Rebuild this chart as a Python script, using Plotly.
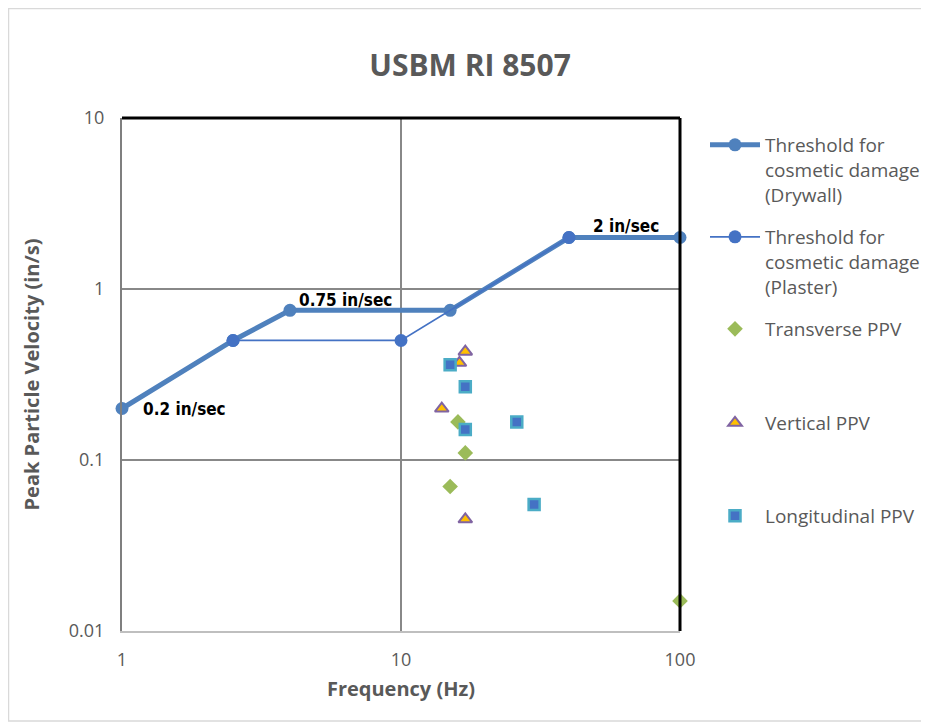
import numpy as np
import plotly.graph_objects as go

# Threshold curves
drywall_f = [1, 2.5, 4, 15, 40, 100]
drywall_v = [0.2, 0.5, 0.75, 0.75, 2, 2]
plaster_f = [2.5, 10, 40]
plaster_v = [0.5, 0.5, 2]

# Measured PPV
trans_f = [16, 17, 15, 100]
trans_v = [0.167, 0.11, 0.07, 0.015]
vert_f = [17, 16.2, 14, 17]
vert_v = [0.43, 0.37, 0.2, 0.045]
long_f = [15, 17, 17, 26, 30]
long_v = [0.36, 0.268, 0.151, 0.167, 0.055]

# Labels
label_text = ["0.2 in/sec", "0.75 in/sec", "2 in/sec"]
label_f = [1.68, 6.3, 64]
label_v = [0.2, 0.86, 2.34]

x_ticks = [1, 10, 100]
y_ticks = [0.01, 0.1, 1, 10]

GRAY = "#595959"
FONT = "Open Sans"
OFF = 8  # page body margin

fig = go.Figure()
fig.add_trace(go.Scatter(
    x=drywall_f, y=drywall_v, mode="lines+markers",
    name="Threshold for<br>cosmetic damage<br>(Drywall)",
    line=dict(color="#4F81BD", width=5),
    marker=dict(symbol="circle", size=13, color="#4F81BD"),
    cliponaxis=False, legend="legend"))
fig.add_trace(go.Scatter(
    x=plaster_f, y=plaster_v, mode="lines+markers",
    name="Threshold for<br>cosmetic damage<br>(Plaster)",
    line=dict(color="#4472C4", width=1.75),
    marker=dict(symbol="circle", size=13, color="#4472C4"),
    cliponaxis=False, legend="legend2"))
fig.add_trace(go.Scatter(
    x=trans_f, y=trans_v, mode="markers", name="Transverse PPV",
    marker=dict(symbol="diamond", size=12, color="#9BBB59"),
    cliponaxis=False, legend="legend3"))
fig.add_trace(go.Scatter(
    x=vert_f, y=vert_v, mode="markers", name="Vertical PPV",
    marker=dict(symbol="triangle-up", size=12, color="#FFC000",
                line=dict(color="#8064A2", width=2)),
    cliponaxis=False, legend="legend4"))
fig.add_trace(go.Scatter(
    x=long_f, y=long_v, mode="markers", name="Longitudinal PPV",
    marker=dict(symbol="square", size=11, color="#4472C4",
                line=dict(color="#4BACC6", width=2.5)),
    cliponaxis=False, legend="legend5"))

for t, f, v in zip(label_text, label_f, label_v):
    fig.add_annotation(x=np.log10(f), y=np.log10(v), text="<b>" + t + "</b>",
                       showarrow=False, xref="x", yref="y",
                       font=dict(family="DejaVu Sans Condensed, Liberation Sans",
                                 size=17, color="black"))

leg_common = dict(font=dict(family=FONT, size=19, color=GRAY), bgcolor="rgba(0,0,0,0)",
                  xanchor="left", yanchor="top", itemwidth=50, valign="top",
                  tracegroupgap=0)

def ypos(py):
    return (631 - py) / 513

def xpos(px):
    return (px - 122) / 558

W, H = 929 - OFF, 723 - OFF
fig.update_layout(
    width=W, height=H, showlegend=True,
    margin=dict(l=122 - OFF, r=W - (680 - OFF), t=118 - OFF, b=H - (631 - OFF),
                autoexpand=False),
    paper_bgcolor="white", plot_bgcolor="white",
    title=dict(text="<b>USBM RI 8507</b>", x=(470 - OFF) / W, xanchor="center",
               y=1 - (65 - OFF) / H, yanchor="middle",
               font=dict(family=FONT, size=30, color=GRAY)),
    legend=dict(x=xpos(705), y=ypos(126), **leg_common),
    legend2=dict(x=xpos(705), y=ypos(218), **leg_common),
    legend3=dict(x=xpos(705), y=ypos(310), **leg_common),
    legend4=dict(x=xpos(705), y=ypos(404), **leg_common),
    legend5=dict(x=xpos(705), y=ypos(497), **leg_common),
    xaxis=dict(type="log", range=[0, 2], tickvals=x_ticks,
               ticktext=[str(v) for v in x_ticks],
               showgrid=True, gridcolor="#888888", gridwidth=1.5,
               showline=True, linecolor="#BFBFBF", linewidth=2,
               ticks="", ticklabelstandoff=11, zeroline=False,
               tickfont=dict(family=FONT, size=18, color=GRAY),
               title=dict(text="<b>Frequency (Hz)</b>", standoff=12,
                          font=dict(family=FONT, size=20, color=GRAY))),
    yaxis=dict(type="log", range=[-2, 1], tickvals=y_ticks,
               ticktext=["0.01", "0.1", "1", "10"],
               showgrid=True, gridcolor="#888888", gridwidth=1.5,
               showline=True, linecolor="#7F7F7F", linewidth=2,
               ticks="", ticklabelstandoff=12, zeroline=False,
               tickfont=dict(family=FONT, size=18, color=GRAY),
               title=dict(text="<b>Peak Particle Velocity (in/s)</b>", standoff=24,
                          font=dict(family=FONT, size=20, color=GRAY))),
)

# plot frame (top and right borders)
fig.add_shape(type="line", xref="x domain", yref="y domain", x0=0, x1=1, y0=1, y1=1,
              line=dict(color="black", width=3), layer="above")
fig.add_shape(type="line", xref="x domain", yref="y domain", x0=1, x1=1, y0=0, y1=1,
              line=dict(color="black", width=3), layer="above")
# chart border
fig.add_shape(type="rect", xref="paper", yref="paper",
              x0=xpos(8.5), x1=xpos(927), y0=ypos(721), y1=ypos(8.5),
              line=dict(color="#D9D9D9", width=1.5), layer="below")

fig.write_html("out.html")
